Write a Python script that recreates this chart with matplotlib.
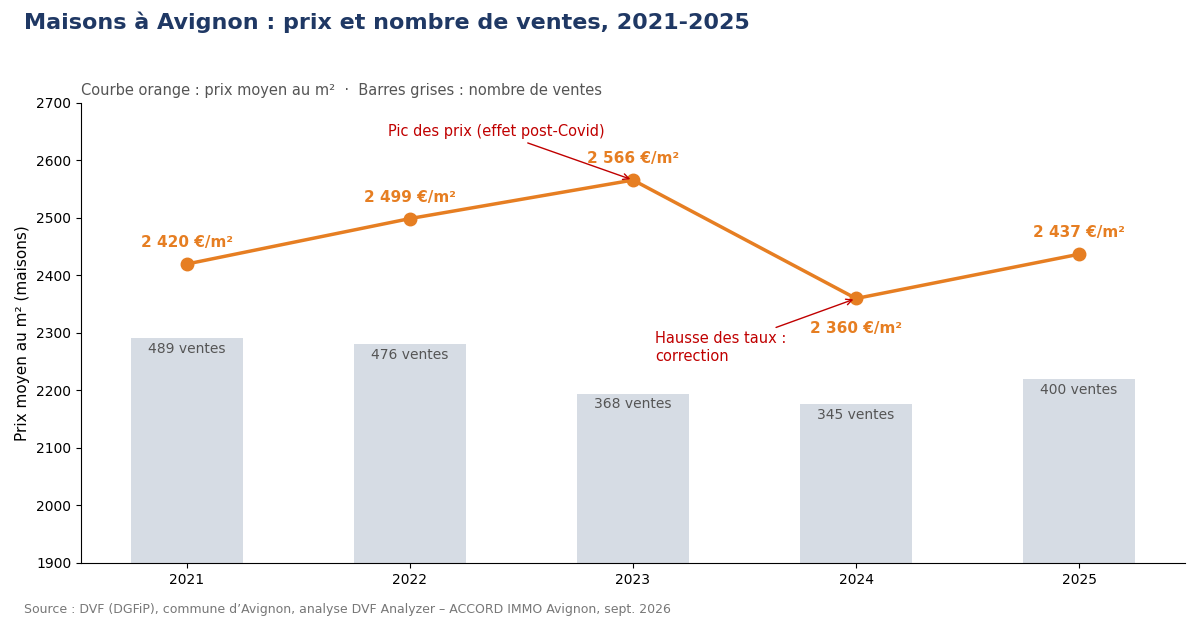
import matplotlib
matplotlib.use("Agg")
import matplotlib.pyplot as plt

years = ["2021", "2022", "2023", "2024", "2025"]
prices = [2420, 2499, 2566, 2360, 2437]
sales = [489, 476, 368, 345, 400]
price_labels = ["2 420 €/m²", "2 499 €/m²", "2 566 €/m²", "2 360 €/m²", "2 437 €/m²"]

fig = plt.figure(figsize=(12, 6.2), dpi=100)
ax = fig.add_axes([81/1200, 1-563/620, (1185-81)/1200, (563-103)/620])
ax2 = ax.twinx()
ax.set_zorder(ax2.get_zorder() + 1)
ax.patch.set_visible(False)

x = list(range(len(years)))
bars = ax2.bar(x, sales, width=0.5, color="#d6dce4", zorder=1)
ax2.set_ylim(0, 1000)
ax2.axis("off")
for xi, s in zip(x, sales):
    ax2.text(xi, s - 8, f"{s} ventes", ha="center", va="top", fontsize=10, color="#555555")

orange = "#e67e22"
ax.plot(x, prices, color=orange, lw=2.5, marker="o", ms=9, zorder=3)
offs = [(0, 10), (0, 10), (0, 10), (0, -16), (0, 10)]
for xi, p, lab, (dx, dy) in zip(x, prices, price_labels, offs):
    ax.annotate(lab, (xi, p), xytext=(dx, dy), textcoords="offset points",
                ha="center", va="bottom" if dy > 0 else "top",
                fontsize=11, fontweight="bold", color=orange)

ax.set_ylim(1900, 2700)
ax.set_xlim(-0.475, 4.475)
ax.set_xticks(x)
ax.set_xticklabels(years)
ax.set_yticks(range(1900, 2701, 100))
ax.tick_params(labelsize=10)
ax.set_ylabel("Prix moyen au m² (maisons)", fontsize=11)
for s in ["top", "right"]:
    ax.spines[s].set_visible(False)

red = "#c00000"
ax.annotate("Pic des prix (effet post-Covid)", xy=(2, 2566), xytext=(0.9, 2650),
            fontsize=10.5, color=red, ha="left", va="center",
            arrowprops=dict(arrowstyle="->", color=red, lw=1))
ax.annotate("Hausse des taux :\ncorrection", xy=(3, 2360), xytext=(2.1, 2275),
            fontsize=10.5, color=red, ha="left", va="center",
            arrowprops=dict(arrowstyle="->", color=red, lw=1))

fig.text(24/1200, 1-22/620, "Maisons à Avignon : prix et nombre de ventes, 2021-2025",
         fontsize=16, fontweight="bold", color="#1f3864", va="center")
fig.text(81/1200, 1-90/620, "Courbe orange : prix moyen au m²  ·  Barres grises : nombre de ventes",
         fontsize=10.5, color="#555555", va="center")
fig.text(24/1200, 1-609/620, "Source : DVF (DGFiP), commune d’Avignon, analyse DVF Analyzer – ACCORD IMMO Avignon, sept. 2026",
         fontsize=9, color="#777777", va="center")

fig.savefig("out.png", dpi=100)
